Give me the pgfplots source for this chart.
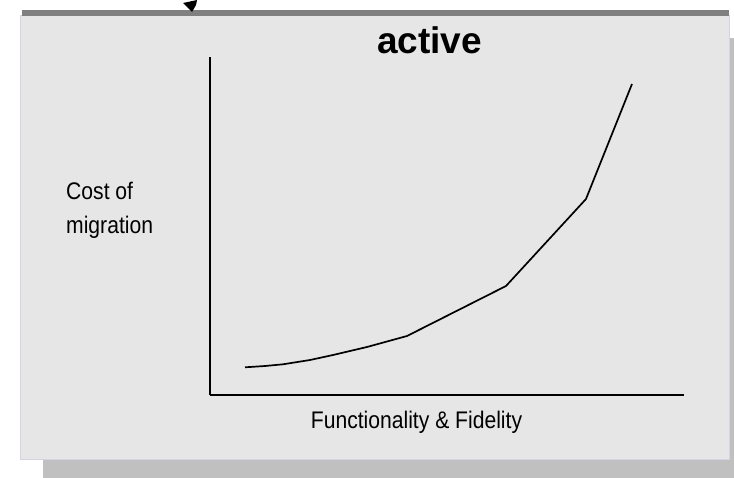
\documentclass[border=0pt]{standalone}
\usepackage{pgfplots}
\pgfplotsset{compat=1.18}
\usepackage{fontspec}
\setmainfont{Liberation Sans}
\newfontfamily\narrowfont[FakeStretch=0.88]{Liberation Sans}
\definecolor{boxgray}{HTML}{E6E6E6}
\definecolor{shadowgray}{HTML}{C0C0C0}
\definecolor{bandgray}{HTML}{808080}
\definecolor{boxedge}{HTML}{D4D4E4}
\begin{document}
\begin{tikzpicture}
\path[use as bounding box] (0bp,0bp) rectangle (734bp,-478bp);
\fill[white] (0bp,0bp) rectangle (734bp,-478bp);
% shadow
\fill[shadowgray] (43bp,-38bp) rectangle (734bp,-478bp);
% main box
\fill[boxgray] (20.5bp,-15.5bp) rectangle (729bp,-459bp);
\draw[boxedge, line width=0.8bp] (20.5bp,-15.5bp) rectangle (729bp,-459bp);
% top band
\fill[bandgray] (22bp,-10bp) rectangle (729bp,-15.5bp);
% arrow head fragment
\fill[black] (183bp,-3bp) -- (197bp,0bp) -- (196bp,-5bp) -- (192bp,-12bp) -- cycle;
% texts
\node[anchor=base, inner sep=0pt, font=\fontsize{37bp}{40bp}\selectfont\bfseries] at (429.5bp,-53bp) {active};
\node[anchor=base west, inner sep=0pt, font=\fontsize{24bp}{28bp}\selectfont\narrowfont] at (66bp,-199bp) {Cost of};
\node[anchor=base west, inner sep=0pt, font=\fontsize{24bp}{28bp}\selectfont\narrowfont] at (66bp,-233bp) {migration};
\node[anchor=base, inner sep=0pt, font=\fontsize{24bp}{28bp}\selectfont\narrowfont] at (416.5bp,-428bp) {Functionality \& Fidelity};
\begin{axis}[
  at={(210bp,-395bp)}, anchor=south west,
  scale only axis, width=474bp, height=338bp,
  xmin=210, xmax=684, ymin=0, ymax=338,
  enlargelimits=false, clip=false,
  axis x line=bottom, axis y line=left,
  axis line style={-, line width=1.3bp, black},
  xtick=\empty, ytick=\empty,
]
\addplot[black, line width=1.7bp, line join=round] coordinates {
  (245,27.7) (265,29.0) (283,30.7) (310,35.0) (333,40.0) (367,48.0) (407,59.0)
  (506,109) (586,196) (632,311)
};
\end{axis}
\end{tikzpicture}
\end{document}
